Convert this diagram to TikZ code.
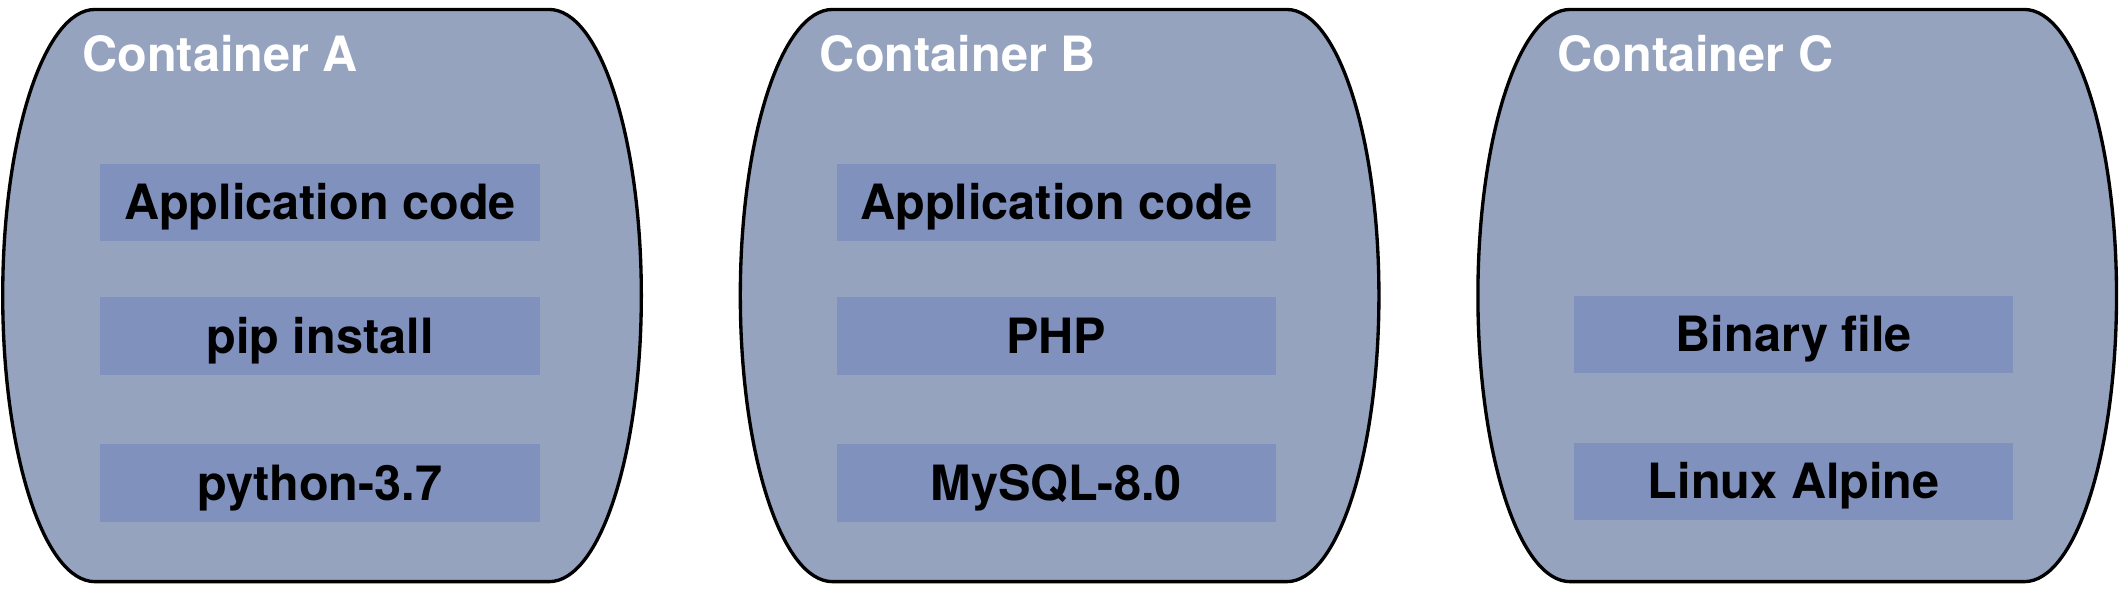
\documentclass[tikz,border=0pt]{standalone}
\usepackage{fontspec}
\setmainfont{TeX Gyre Heros}
\usetikzlibrary{positioning}
\definecolor{boxfill}{RGB}{150,163,191}
\definecolor{layerfill}{RGB}{128,145,189}
\newcommand{\arcrx}{0.68}
\newcommand{\arcry}{2.11}

\tikzset{
  container/.style = {draw=black, fill=boxfill, line width=0.7pt},
  ctitle/.style = {text=white, anchor=base west, inner sep=0pt,
                   font=\fontsize{10.2}{12}\selectfont\bfseries},
  layer/.style = {fill=layerfill, minimum width=3.24cm, minimum height=0.57cm,
                  inner sep=0pt, text height=0.72em, text depth=0pt,
                  font=\fontsize{10.2}{12}\selectfont\bfseries}
}

\begin{document}
\begin{tikzpicture}
    \useasboundingbox (0,0) rectangle (15.68,4.37);
    % the three containers
    \foreach \x/\n in {0/A, 5.44/B, 10.88/C}{
        \draw[container] (\x+0.70,4.30) -- (\x+4.05,4.30)
            arc[start angle=90, end angle=-90, x radius=\arcrx, y radius=\arcry]
            -- (\x+0.70,0.08)
            arc[start angle=270, end angle=90, x radius=\arcrx, y radius=\arcry]
            -- cycle;
        \node[ctitle] (title\n) at (\x+0.60,3.84) {Container \n};
    }
    % container A
    \node[layer] (appA) at (2.36,2.875) {Application code};
    \node[layer, below=0.40cm of appA] (pipA) {pip install};
    \node[layer, below=0.50cm of pipA] (pyA) {python-3.7};
    % container B
    \node[layer] (appB) at (7.79,2.875) {Application code};
    \node[layer, below=0.40cm of appB] (phpB) {PHP};
    \node[layer, below=0.50cm of phpB] (sqlB) {MySQL-8.0};
    % container C
    \node[layer] (binC) at (13.23,1.905) {Binary file};
    \node[layer, below=0.50cm of binC] (linC) {Linux Alpine};
\end{tikzpicture}
\end{document}
